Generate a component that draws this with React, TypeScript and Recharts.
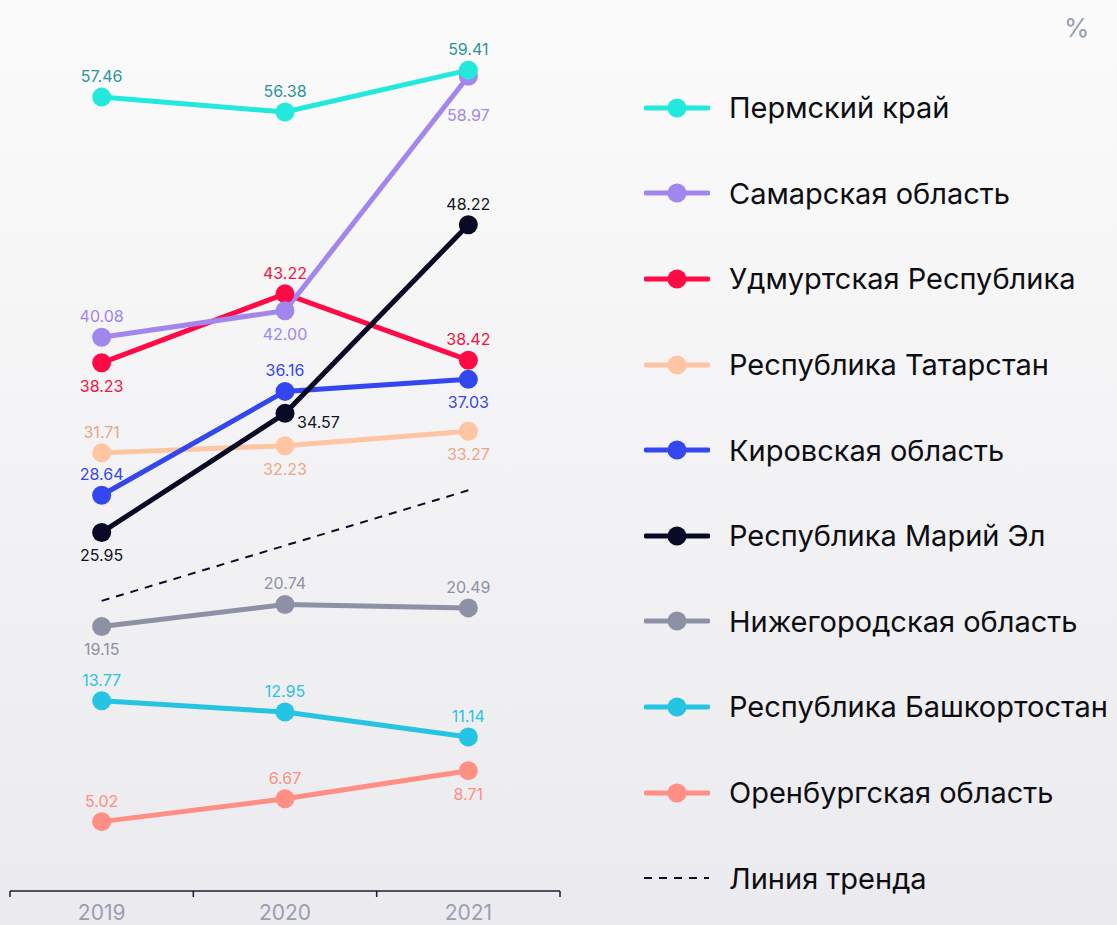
import React from 'react';
import { LineChart, Line, XAxis, YAxis, LabelList } from 'recharts';

// --- data ---
const years = [2019, 2020, 2021];

const perm = [57.46, 56.38, 59.41];
const samara = [40.08, 42.0, 58.97];
const udmurt = [38.23, 43.22, 38.42];
const tatarstan = [31.71, 32.23, 33.27];
const kirov = [28.64, 36.16, 37.03];
const mariEl = [25.95, 34.57, 48.22];
const nizhny = [19.15, 20.74, 20.49];
const bashkortostan = [13.77, 12.95, 11.14];
const orenburg = [5.02, 6.67, 8.71];
const trend = [21.0, 25.0, 29.0];

type Side = 'top' | 'bottom' | 'bottomFar' | 'right';

type Series = {
  key: string;
  name: string;
  values: number[];
  color: string;
  labelColor: string;
  sides: Side[];
};

// legend order
const series: Series[] = [
  { key: 'perm', name: 'Пермский край', values: perm, color: '#23e8dc', labelColor: '#2b939b', sides: ['top', 'top', 'top'] },
  { key: 'samara', name: 'Самарская область', values: samara, color: '#a385ee', labelColor: '#a385ee', sides: ['top', 'bottom', 'bottomFar'] },
  { key: 'udmurt', name: 'Удмуртская Республика', values: udmurt, color: '#ff0a45', labelColor: '#f5123f', sides: ['bottom', 'top', 'top'] },
  { key: 'tatarstan', name: 'Республика Татарстан', values: tatarstan, color: '#ffc4a1', labelColor: '#eaa787', sides: ['top', 'bottom', 'bottom'] },
  { key: 'kirov', name: 'Кировская область', values: kirov, color: '#3447ef', labelColor: '#3447ef', sides: ['top', 'top', 'bottom'] },
  { key: 'mariEl', name: 'Республика Марий Эл', values: mariEl, color: '#080a26', labelColor: '#111322', sides: ['bottom', 'right', 'top'] },
  { key: 'nizhny', name: 'Нижегородская область', values: nizhny, color: '#8e90a6', labelColor: '#8e90a6', sides: ['bottom', 'top', 'top'] },
  { key: 'bashkortostan', name: 'Республика Башкортостан', values: bashkortostan, color: '#26c4e3', labelColor: '#26c4e3', sides: ['top', 'top', 'top'] },
  { key: 'orenburg', name: 'Оренбургская область', values: orenburg, color: '#ff8e85', labelColor: '#ff8e85', sides: ['top', 'top', 'bottom'] },
];

// which lines sit on top of which (bottom first)
const drawOrder = ['orenburg', 'bashkortostan', 'nizhny', 'tatarstan', 'kirov', 'udmurt', 'samara', 'mariEl', 'perm'];

const chartData = years.map((year, i) => {
  const row: Record<string, number> = { year, trend: trend[i] };
  series.forEach((s) => {
    row[s.key] = s.values[i];
  });
  return row;
});

const W = 1117;
const H = 925;
const PLOT_LEFT = 10;
const PLOT_RIGHT = 560;
const FONT = 'Inter, "Noto Sans", sans-serif';
const TREND_COLOR = '#0a0c2a';

const halfBand = (PLOT_RIGHT - PLOT_LEFT) / years.length / 2;

const YearTick = (props: any) => {
  const { x, y, payload, index } = props;
  const top = y - 6;
  return (
    <g>
      <line x1={x - halfBand} x2={x - halfBand} y1={top} y2={top + 6} stroke="#1b1d33" strokeWidth={1.5} />
      {index === years.length - 1 && (
        <line x1={x + halfBand} x2={x + halfBand} y1={top} y2={top + 6} stroke="#1b1d33" strokeWidth={1.5} />
      )}
      <text x={x} y={y + 23} textAnchor="middle" fill="#9a9eb3" fontSize={21} fontFamily={FONT}>
        {payload.value}
      </text>
    </g>
  );
};

const makeLabel = (s: Series) => (p: any) => {
  const x = p.x ?? p.viewBox?.x;
  const y = p.y ?? p.viewBox?.y;
  const side = s.sides[p.index] || 'top';
  let tx = x;
  let ty = y - 15;
  let anchor: 'middle' | 'start' = 'middle';
  if (side === 'bottom') ty = y + 29;
  if (side === 'bottomFar') ty = y + 45;
  if (side === 'right') {
    tx = x + 12;
    ty = y + 15;
    anchor = 'start';
  }
  return (
    <text key={`${s.key}-${p.index}`} x={tx} y={ty} textAnchor={anchor} fill={s.labelColor} fontSize={16} fontFamily={FONT}>
      {Number(p.value).toFixed(2)}
    </text>
  );
};

const LegendRow = ({ color, name, dashed }: { color: string; name: string; dashed?: boolean }) => (
  <div style={{ display: 'flex', alignItems: 'center', height: 85.6 }}>
    <svg width={66} height={22} style={{ flexShrink: 0 }}>
      {dashed ? (
        <line x1={0} x2={65} y1={11} y2={11} stroke={color} strokeWidth={2} strokeDasharray="8 7" />
      ) : (
        <>
          <line x1={2} x2={64} y1={11} y2={11} stroke={color} strokeWidth={5} strokeLinecap="round" />
          <circle cx={33} cy={11} r={9.5} fill={color} />
        </>
      )}
    </svg>
    <span style={{ marginLeft: 19, fontSize: 29, color: '#0d0d12', whiteSpace: 'nowrap' }}>{name}</span>
  </div>
);

export default function App() {
  const byKey = Object.fromEntries(series.map((s) => [s.key, s]));
  return (
    <div
      style={{
        position: 'relative',
        width: W,
        height: H,
        overflow: 'hidden',
        fontFamily: FONT,
        background: 'linear-gradient(180deg, #fbfbfb 0%, #f3f3f5 50%, #ebeaee 100%)',
      }}
    >
      <style>{'body{margin:0}'}</style>
      <LineChart
        width={W}
        height={H}
        data={chartData}
        margin={{ top: 62, right: W - PLOT_RIGHT, bottom: 0, left: PLOT_LEFT }}
      >
        <XAxis
          dataKey="year"
          type="number"
          domain={[2018.5, 2021.5]}
          ticks={years}
          height={34}
          tickSize={6}
          tickMargin={0}
          tickLine={false}
          axisLine={{ stroke: '#1b1d33', strokeWidth: 1.5 }}
          tick={<YearTick />}
          interval={0}
        />
        <YAxis hide domain={[0, 60]} />
        <Line
          dataKey="trend"
          stroke={TREND_COLOR}
          strokeWidth={2}
          strokeDasharray="8 7"
          dot={false}
          activeDot={false}
          isAnimationActive={false}
        />
        {drawOrder.map((k) => {
          const s = byKey[k];
          return (
            <Line
              key={s.key}
              dataKey={s.key}
              name={s.name}
              stroke={s.color}
              strokeWidth={5}
              dot={{ r: 9.5, fill: s.color, stroke: 'none' }}
              activeDot={false}
              isAnimationActive={false}
            >
              <LabelList dataKey={s.key} content={makeLabel(s)} />
            </Line>
          );
        })}
      </LineChart>

      <div style={{ position: 'absolute', left: 1064, top: 12, fontSize: 26, color: '#9a9eb3' }}>%</div>

      <div style={{ position: 'absolute', left: 644, top: 65 }}>
        {series.map((s) => (
          <LegendRow key={s.key} color={s.color} name={s.name} />
        ))}
        <LegendRow color={TREND_COLOR} name="Линия тренда" dashed />
      </div>
    </div>
  );
}
